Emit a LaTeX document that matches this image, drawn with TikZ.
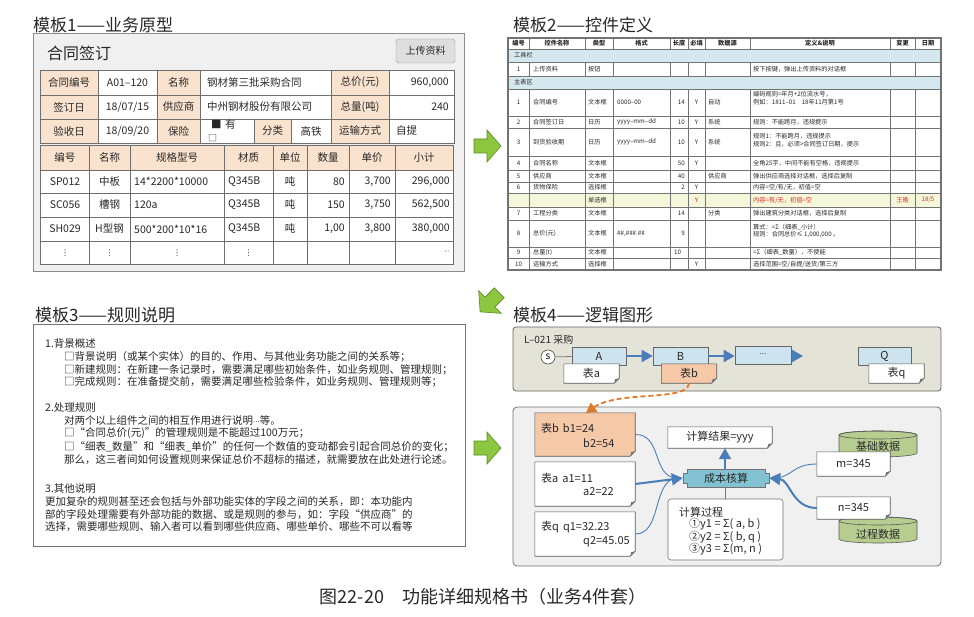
\documentclass[tikz,border=0pt]{standalone}
\usepackage{fontspec}
\setmainfont{Noto Sans CJK SC}
\newfontfamily\dejavu{DejaVu Sans}
\usetikzlibrary{arrows.meta}
\definecolor{peach}{RGB}{249,226,206}
\definecolor{txt}{RGB}{40,40,40}
\definecolor{tline}{RGB}{110,110,110}
\definecolor{frameA}{RGB}{240,240,240}
\definecolor{btn}{RGB}{222,222,222}
\definecolor{rowblue}{RGB}{213,232,240}
\definecolor{rowyel}{RGB}{245,247,218}
\definecolor{redtxt}{RGB}{230,40,30}
\definecolor{panelA}{RGB}{228,227,215}
\definecolor{boxblue}{RGB}{205,228,240}
\definecolor{notepeach}{RGB}{245,200,168}
\definecolor{arrblue}{RGB}{74,126,187}
\definecolor{dashor}{RGB}{226,120,40}
\definecolor{panelB}{RGB}{240,240,240}
\definecolor{corefill}{RGB}{130,194,210}
\definecolor{cylg}{RGB}{183,204,143}
\definecolor{garrow}{RGB}{141,198,63}
\definecolor{garrowd}{RGB}{90,140,40}
\newcommand\foldnote[2]{%
  \filldraw[fill=#2, draw=black!65, line width=0.6pt] (#1.north west) -- (#1.north east) -- ([yshift=5pt]#1.south east) -- ([xshift=-5pt]#1.south east) -- (#1.south west) -- cycle;
  \fill[black!55] ([yshift=5pt]#1.south east) -- ([xshift=-5pt]#1.south east) -- ([xshift=-4pt,yshift=4pt]#1.south east) -- cycle;}
\newcommand\greenarrow[3]{%
  \begin{scope}[shift={(#1,#2)}, rotate=#3]
    \filldraw[fill=garrow, draw=garrowd, line width=0.6pt] (-13,-7) -- (0,-7) -- (0,-16) -- (14,0) -- (0,16) -- (0,7) -- (-13,7) -- cycle;
  \end{scope}}
\newcommand\detailrow[8]{%
  \node[ca] at (65,#1) {#2};
  \node[ca] at (109.5,#1) {#3};
  \node[ca,L] at (134,#1) {#4};
  \node[ca,L] at (228,#1) {Q345B};
  \node[ca] at (290,#1) {吨};
  \node[ca,R] at (345,#1) {#5};
  \node[ca,R] at (391,#1) {#6};
  \node[ca,R] at (450,#1) {#7};}
\begin{document}
\begin{tikzpicture}[x=1pt,y=-1pt,
  title/.style={font=\fontsize{17}{17}\selectfont, text=txt, inner sep=0pt, anchor=west},
  ca/.style={font=\fontsize{10.5}{12}\selectfont, text=txt, inner sep=0pt},
  cb/.style={font=\fontsize{6.2}{7.6}\selectfont, text=txt, inner sep=0pt},
  cc/.style={font=\fontsize{10.5}{12}\selectfont, text=txt, inner sep=0pt, anchor=west},
  cd/.style={font=\fontsize{11}{12.5}\selectfont, text=txt, inner sep=0pt},
  L/.style={anchor=west}, R/.style={anchor=east},
  tl/.style={draw=tline, line width=0.6pt},
  tlb/.style={draw=black!55, line width=0.5pt},
  bbox/.style={draw=black!60, line width=0.6pt, fill=boxblue, minimum height=18pt, inner sep=0pt, font=\fontsize{11}{12}\selectfont, text=txt},
  nbox/.style={minimum height=19pt, minimum width=55pt, inner sep=0pt},
  bigarrow/.style={draw=arrblue, line width=2.2pt, -{Triangle[length=11pt,width=12pt]}},
  thinblue/.style={draw=arrblue, line width=0.9pt},
]
\useasboundingbox[fill=white] (0,0) rectangle (974,617);

% ================= Template 1 =================
\node[title] (t1title) at (33,25) {模板1——业务原型};
\filldraw[fill=frameA, draw=black!45, line width=1pt] (33,34) rectangle (464,272);
\node[anchor=west, font=\fontsize{16}{16}\selectfont, text=txt, inner sep=0pt] (htitle) at (47,53) {合同签订};
\node[draw=black!40, fill=btn, rounded corners=3pt, minimum width=59pt, minimum height=24pt, inner sep=0pt, font=\fontsize{10}{11}\selectfont, text=txt] (upload) at (425.5,51) {上传资料};
% header table
\fill[white] (40,70) rectangle (454,143);
\fill[peach] (40,70) rectangle (98,143);
\fill[peach] (157,70) rectangle (200,143);
\fill[peach] (331,70) rectangle (389,143);
\fill[peach] (254,119) rectangle (291,143);
\draw[tl] (40,70) rectangle (454,143);
\draw[tl] (40,95) -- (454,95) (40,119) -- (454,119);
\foreach \x in {98,157,200,331,389} {\draw[tl] (\x,70) -- (\x,143);}
\draw[tl] (254,119) -- (254,143) (291,119) -- (291,143);
\node[ca] at (69,82.5) {合同编号};
\node[ca] at (127.5,82.5) {A01–120};
\node[ca] at (178.5,82.5) {名称};
\node[ca,L] at (207,82.5) {钢材第三批采购合同};
\node[ca] at (360,82.5) {总价(元)};
\node[ca,R] at (449,82.5) {960,000};
\node[ca] at (69,107) {签订日};
\node[ca] at (127.5,107) {18/07/15};
\node[ca] at (178.5,107) {供应商};
\node[ca,L] at (207,107) {中州钢材股份有限公司};
\node[ca] at (360,107) {总量(吨)};
\node[ca,R] at (449,107) {240};
\node[ca] at (69,131) {验收日};
\node[ca] at (127.5,131) {18/09/20};
\node[ca] at (178.5,131) {保险};
\node[ca,L] at (211,125) {■\,\,有};
\node[ca,L,font=\fontsize{9}{10}\selectfont] at (208,138) {□};
\node[ca] at (272.5,131) {分类};
\node[ca] at (311,131) {高铁};
\node[ca] at (360,131) {运输方式};
\node[ca,L] at (396,131) {自提};
% detail table
\fill[white] (40.7,145) rectangle (453,264);
\fill[peach] (40.7,145) rectangle (453,170);
\draw[tl] (40.7,145) rectangle (453,264);
\foreach \y in {170,193,217,241} {\draw[tl] (40.7,\y) -- (453,\y);}
\foreach \x in {89,130,224,273,307,349,395} {\draw[tl] (\x,145) -- (\x,264);}
\foreach \x/\t in {64.8/编号,109.5/名称,177/规格型号,248.5/材质,290/单位,328/数量,372/单价,424/小计} {\node[ca] at (\x,157.5) {\t};}
\detailrow{181.5}{SP012}{中板}{14*2200*10000}{80}{3,700}{296,000}{}
\detailrow{205}{SC056}{槽钢}{120a}{150}{3,750}{562,500}{}
\detailrow{229}{SH029}{H型钢}{500*200*10*16}{1,00}{3,800}{380,000}{}
\foreach \x in {65,109.5,177,248.5} {\node[ca, font=\dejavu\fontsize{8}{9}\selectfont] at (\x,253) {⋮};}
\node[ca,R, font=\dejavu\fontsize{6}{7}\selectfont] at (450,252) {···};

% green arrows
\greenarrow{487}{146}{0}
\greenarrow{490}{302}{225}
\greenarrow{487}{448}{0}

% ================= Template 2 =================
\node[title] (t2title) at (513,25) {模板2——控件定义};
\fill[white] (508,38) rectangle (941,270);
\fill[rowblue] (508,49) rectangle (941,62);
\fill[rowblue] (508,76) rectangle (941,89);
\fill[rowyel] (508,193) rectangle (941,207);
\foreach \y in {49,62,76,89,116,128,156,170,182,193,207,220,247,258} {\draw[tlb] (508,\y) -- (941,\y);}
\foreach \x in {529,585,613,670,688,705,750,890,915} {\draw[tlb] (\x,38) -- (\x,49) (\x,62) -- (\x,76) (\x,89) -- (\x,270);}
\draw[draw=black!55, line width=1.1pt] (508,38) rectangle (941,270);
\foreach \x/\t in {518.5/编号,557/控件名称,599/类型,641.5/格式,679/长度,696.5/必填,727.5/数据源,820/定义\&说明,902.5/变更,928/日期} {\node[cb, font=\bfseries\fontsize{6.2}{7.6}\selectfont] at (\x,43.5) {\t};}
\node[cb,L] at (514,55.5) {工具栏};
\node[cb] at (518.5,69) {1};
\node[cb,L] at (533,69) {上传资料};
\node[cb,L] at (588,69) {按钮};
\node[cb,L] at (753,69) {按下按键，弹出上传资料的对话框};
\node[cb,L] at (514,82.5) {主表区};
% rows
\node[cb] at (518.5,102.5) {1};
\node[cb,L] at (533,102.5) {合同编号};
\node[cb,L] at (588,102.5) {文本框};
\node[cb,L] at (617,102.5) {0000–00};
\node[cb,R] at (685,102.5) {14};
\node[cb] at (696.5,102.5) {Y};
\node[cb,L] at (708,102.5) {自动};
\node[cb,L,align=left] at (753,98) {编码规则=年月+2位流水号，\\例如：1811–01\hspace{6pt}18年11月第1号};
\node[cb] at (518.5,122) {2};
\node[cb,L] at (533,122) {合同签订日};
\node[cb,L] at (588,122) {日历};
\node[cb,L] at (617,122) {yyyy–mm–dd};
\node[cb,R] at (685,122) {10};
\node[cb] at (696.5,122) {Y};
\node[cb,L] at (708,122) {系统};
\node[cb,L] at (753,122) {规则：不能跨月，违规提示};
\node[cb] at (518.5,142) {3};
\node[cb,L] at (533,142) {到货验收期};
\node[cb,L] at (588,142) {日历};
\node[cb,L] at (617,142) {yyyy–mm–dd};
\node[cb,R] at (685,142) {10};
\node[cb] at (696.5,142) {Y};
\node[cb,L] at (708,142) {系统};
\node[cb,L,align=left] at (753,140) {规则1：不能跨月，违规提示\\规则2：且，必须>合同签订日期，提示};
\node[cb] at (518.5,163) {4};
\node[cb,L] at (533,163) {合同名称};
\node[cb,L] at (588,163) {文本框};
\node[cb,R] at (685,163) {50};
\node[cb] at (696.5,163) {Y};
\node[cb,L] at (753,163) {全角25字，中间不能有空格，违规提示};
\node[cb] at (518.5,176) {5};
\node[cb,L] at (533,176) {供应商};
\node[cb,L] at (588,176) {文本框};
\node[cb,R] at (685,176) {40};
\node[cb,L] at (708,176) {供应商};
\node[cb,L] at (753,176) {弹出供应商选择对话框，选择后复制};
\node[cb] at (518.5,187.5) {6};
\node[cb,L] at (533,187.5) {货物保险};
\node[cb,L] at (588,187.5) {选择框};
\node[cb,R] at (685,187.5) {2};
\node[cb] at (696.5,187.5) {Y};
\node[cb,L] at (753,187.5) {内容=空/有/无，初值=空};
\node[cb,L] at (588,200) {单选框};
\node[cb,text=redtxt] at (696.5,200) {Y};
\node[cb,L,text=redtxt] at (753,200) {内容=有/无，初值=空};
\node[cb,text=redtxt] at (902.5,200) {王皓};
\node[cb,text=redtxt] at (928,200) {18/5};
\node[cb] at (518.5,213.5) {7};
\node[cb,L] at (533,213.5) {工程分类};
\node[cb,L] at (588,213.5) {文本框};
\node[cb,R] at (685,213.5) {14};
\node[cb,L] at (708,213.5) {分类};
\node[cb,L] at (753,213.5) {弹出建筑分类对话框，选择后复制};
\node[cb] at (518.5,233.5) {8};
\node[cb,L] at (533,233.5) {总价(元)};
\node[cb,L] at (588,233.5) {文本框};
\node[cb,L] at (617,233.5) {\#\#,\#\#\#.\#\#};
\node[cb,R] at (685,233.5) {9};
\node[cb,L,align=left] at (753,231) {算式：=Σ（细表\_小计）\\规则：合同总价≤ 1,000,000 。};
\node[cb] at (518.5,252.5) {9};
\node[cb,L] at (533,252.5) {总量(t)};
\node[cb,L] at (588,252.5) {文本框};
\node[cb,L] at (674,252.5) {10};
\node[cb,L] at (753,252.5) {=Σ（细表\_数量），不使能};
\node[cb] at (518.5,264) {10};
\node[cb,L] at (533,264) {运输方式};
\node[cb,L] at (588,264) {选择框};
\node[cb] at (696.5,264) {Y};
\node[cb,L] at (753,264) {选择范围=空/自提/送货/第三方};

% ================= Template 3 =================
\node[title] (t3title) at (35,315) {模板3——规则说明};
\filldraw[fill=white, draw=black!55, line width=1pt] (33,325) rectangle (465,546);
\node[cc] at (45,344) {1.背景概述};
\node[cc] at (64,357) {□背景说明（或某个实体）的目的、作用、与其他业务功能之间的关系等；};
\node[cc] at (64,369.5) {□新建规则：在新建一条记录时，需要满足哪些初始条件，如业务规则、管理规则；};
\node[cc] at (64,382) {□完成规则：在准备提交前，需要满足哪些检验条件，如业务规则、管理规则等；};
\node[cc] at (45,408) {2.处理规则};
\node[cc] at (64,421) {对两个以上组件之间的相互作用进行说明{\dejavu\fontsize{7}{8}\selectfont ···}等。};
\node[cc] at (64,433.5) {□“合同总价(元)”的管理规则是不能超过100万元；};
\node[cc] at (64,446.5) {□“细表\_数量”和“细表\_单价”的任何一个数值的变动都会引起合同总价的变化；};
\node[cc] at (64,460) {那么，这三者间如何设置规则来保证总价不超标的描述，就需要放在此处进行论述。};
\node[cc] at (45,489) {3.其他说明};
\node[cc] at (45,502) {更加复杂的规则甚至还会包括与外部功能实体的字段之间的关系，即：本功能内};
\node[cc] at (45,514.5) {部的字段处理需要有外部功能的数据、或是规则的参与，如：字段“供应商”的};
\node[cc] at (45,527) {选择，需要哪些规则、输入者可以看到哪些供应商、哪些单价、哪些不可以看等};

% ================= Template 4 =================
\node[title] (t4title) at (513,315) {模板4——逻辑图形};
\filldraw[fill=panelA, draw=black!60, line width=0.8pt, rounded corners=3pt] (513,327) rectangle (941,391);
\node[anchor=west, inner sep=0pt, font=\fontsize{10}{11}\selectfont, text=txt] (lcode) at (524,340) {L–021 采购};
\node[bbox, minimum width=54pt] (A) at (599,356) {A};
\node[bbox, minimum width=55pt] (B) at (680.5,356) {B};
\node[bbox, minimum width=56pt, font=\dejavu\fontsize{7}{8}\selectfont] (D) at (763,355) {···};
\node[bbox, minimum width=53pt] (Q) at (884.5,356) {Q};
\node[circle, draw=black!70, fill=white, line width=0.6pt, minimum size=14pt, inner sep=0pt, font=\fontsize{10}{11}\selectfont] (s) at (548,357) {s};
\draw[draw=black!50, line width=0.8pt] (s) -- (A);
\coordinate (qend) at (803,356);
\draw[bigarrow] (A) -- (B);
\draw[bigarrow] (B) -- (D.west |- B);
\draw[bigarrow] (D.east |- B) -- (qend);
\path node[nbox] (ta) at (591.5,373.5) {};
\foldnote{ta}{white}
\node[cd] at (ta) {表a};
\path node[nbox] (tb) at (689,373.5) {};
\foldnote{tb}{notepeach}
\node[cd] at (tb) {表b};
\path node[nbox] (tq) at (896.5,373.5) {};
\foldnote{tq}{white}
\node[cd] at (tq) {表q};

\filldraw[fill=panelB, draw=black!55, line width=0.8pt, rounded corners=4pt] (513,407) rectangle (941,566);
\draw[draw=dashor, line width=1.8pt, dash pattern=on 5pt off 3pt, -{Triangle[length=10pt,width=11pt]}] (tb.south) .. controls (688,402) and (618,390) .. (586,413);

\path node[minimum width=100pt, minimum height=43pt, inner sep=0pt] (nb) at (585,434.5) {};
\foldnote{nb}{notepeach}
\node[cd,L] at (541,428) {表b\hspace{4pt}b1=24};
\node[cd,L] at (583,443) {b2=54};
\path node[minimum width=100pt, minimum height=44pt, inner sep=0pt] (na) at (585,484) {};
\foldnote{na}{white}
\node[cd,L] at (541,478) {表a\hspace{4pt}a1=11};
\node[cd,L] at (583,492) {a2=22};
\path node[minimum width=100pt, minimum height=44pt, inner sep=0pt] (nq) at (585,534) {};
\foldnote{nq}{white}
\node[cd,L] at (541,527) {表q\hspace{4pt}q1=32.23};
\node[cd,L] at (583,542) {q2=45.05};

\path node[minimum width=104pt, minimum height=21pt, inner sep=0pt] (res) at (720,437.5) {};
\foldnote{res}{white}
\node[cd] at (res) {计算结果=yyy};

\path node[minimum width=86pt, minimum height=18pt, inner sep=0pt] (core) at (726,478) {};
\filldraw[fill=corefill, draw=black!55, line width=0.6pt] (687,469) -- (765,469) -- (765,473) -- (769,473) -- (769,483) -- (765,483) -- (765,487) -- (687,487) -- (687,483) -- (683,483) -- (683,473) -- (687,473) -- cycle;
\node[cd] at (core) {成本核算};

\node[draw=black!55, fill=white, line width=0.6pt, rounded corners=3pt, minimum width=115pt, minimum height=61pt, inner sep=0pt] (proc) at (725.5,529.5) {};
\node[cd,L] at (679,512) {计算过程};
\node[cd,L] at (689,524.5) {①y1 = Σ( a, b )};
\node[cd,L] at (689,537) {②y2 = Σ( b, q )};
\node[cd,L] at (689,549) {③y3 = Σ(m, n )};

\draw[thinblue] (725,487) -- (proc.north -| 725,487);
\draw[bigarrow, line width=2pt] (725,469) -- (res.south -| 725,469);

% cylinders
\filldraw[fill=cylg, draw=black!65, line width=0.6pt] (839,435) -- (839,453) arc[start angle=180, end angle=360, x radius=39pt, y radius=4pt] -- (917,435) arc[start angle=0, end angle=180, x radius=39pt, y radius=4pt] -- cycle;
\draw[draw=black!65, line width=0.6pt] (878,435) ellipse[x radius=39pt, y radius=4pt];
\node[cd] (basedata) at (878,446) {基础数据};
\filldraw[fill=cylg, draw=black!65, line width=0.6pt] (839,521) -- (839,539) arc[start angle=180, end angle=360, x radius=39pt, y radius=4pt] -- (917,521) arc[start angle=0, end angle=180, x radius=39pt, y radius=4pt] -- cycle;
\draw[draw=black!65, line width=0.6pt] (878,521) ellipse[x radius=39pt, y radius=4pt];
\node[cd] (procdata) at (878,534) {过程数据};

\path node[minimum width=73pt, minimum height=24pt, inner sep=0pt] (m) at (853.5,464) {};
\foldnote{m}{white}
\node[cd] at (m) {m=345};
\path node[minimum width=73pt, minimum height=22pt, inner sep=0pt] (n) at (853.5,508) {};
\foldnote{n}{white}
\node[cd] at (n) {n=345};

% connectors to core
\draw[thinblue] (nb.east) .. controls (662,434) and (652,476) .. (676,478);
\draw[thinblue] (nq.east) .. controls (662,534) and (652,482) .. (676,478);
\draw[bigarrow, line width=2pt] (na.east) -- (core.west);
\draw[thinblue] (m.west) .. controls (792,464) and (792,478) .. (774,478);
\draw[bigarrow, line width=2pt] (n.west) .. controls (792,508) and (790,480) .. (core.east);

% caption
\node[font=\fontsize{18}{18}\selectfont, text=txt, inner sep=0pt] (caption) at (483,597) {图22-20\hspace{1em}功能详细规格书（业务4件套）};
\end{tikzpicture}
\end{document}
